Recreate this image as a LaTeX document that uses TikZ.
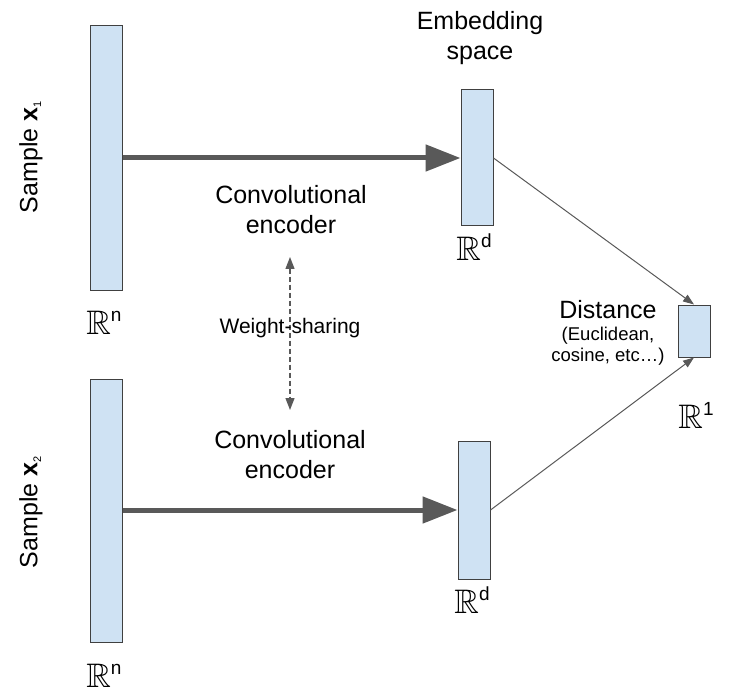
\documentclass[tikz,border=0pt]{standalone}
\usepackage{fontspec}
\usepackage{amssymb}
\setmainfont{Liberation Sans}
\usetikzlibrary{arrows.meta}
\definecolor{barblue}{HTML}{CFE2F3}
\definecolor{arrowgray}{HTML}{595959}
\newcommand{\Rsp}[1]{$\mathbb{R}$\raisebox{13pt}{\fontsize{19}{19}\selectfont #1}}

\begin{document}
\begin{tikzpicture}[x=1pt, y=-1pt,
	bar/.style={draw=black!75, line width=1pt, fill=barblue, inner sep=0pt, minimum width=32pt},
	big/.style={font=\fontsize{25}{30}\selectfont, align=center},
	space/.style={font=\fontsize{34}{34}\selectfont, inner sep=0pt, anchor=base},
	thick arrow/.style={draw=arrowgray, line width=5pt, -{Triangle[length=35pt, width=26pt]}},
	thin arrow/.style={draw=arrowgray, line width=1pt, -{Triangle[length=11pt, width=8pt]}}]
	\useasboundingbox (0,0) rectangle (735,700);
	% bars
	\node[bar, minimum height=264pt] (in1) at (106,158) {};
	\node[bar, minimum height=263pt] (in2) at (106,510.5) {};
	\node[bar, minimum height=136pt] (emb1) at (477,158) {};
	\node[bar, minimum height=138pt] (emb2) at (474,510) {};
	\node[bar, minimum height=52pt] (dist) at (694,331) {};
	% labels
	\node[big, rotate=90] (s1) at (31,157) {Sample \textbf{x}\textsubscript{\fontsize{11}{11}\selectfont 1}};
	\node[big, rotate=90] (s2) at (31,512) {Sample \textbf{x}\textsubscript{\fontsize{11}{11}\selectfont 2}};
	\node[space] (rn1) at (104,334) {\Rsp{n}};
	\node[space] (rn2) at (104,687) {\Rsp{n}};
	\node[space] (rd1) at (474,261) {\Rsp{d}};
	\node[space] (rd2) at (472,613) {\Rsp{d}};
	\node[space] (r1) at (696,428) {\Rsp{1}};
	\node[big] (embtxt) at (480,38) {Embedding\\space};
	\node[big] (enc1) at (291,210) {Convolutional\\encoder};
	\node[big] (enc2) at (290,455) {Convolutional\\encoder};
	\node[big] (disttxt) at (608,310) {Distance};
	\node[font=\fontsize{18.5}{21}\selectfont, align=center] (metric) at (608,346) {(Euclidean,\\cosine, etc…)};
	% arrows
	\draw[thick arrow] (in1.east |- emb1.west) -- (emb1.west);
	\draw[thick arrow] (in2.east |- emb2.west) -- (emb2.west);
	\draw[thin arrow] (emb1.east) -- (dist.north);
	\draw[thin arrow] (emb2.east) -- (dist.south);
	\coordinate (wtop) at (290,257);
	\coordinate (wbot) at (290,410);
	\draw[draw=arrowgray, line width=1.3pt, dash pattern=on 5pt off 3pt, {Triangle[length=12pt, width=9pt]}-{Triangle[length=12pt, width=9pt]}] (wtop) -- (wbot);
	\node[font=\fontsize{21}{21}\selectfont] (ws) at (290,328) {Weight-sharing};
\end{tikzpicture}
\end{document}
